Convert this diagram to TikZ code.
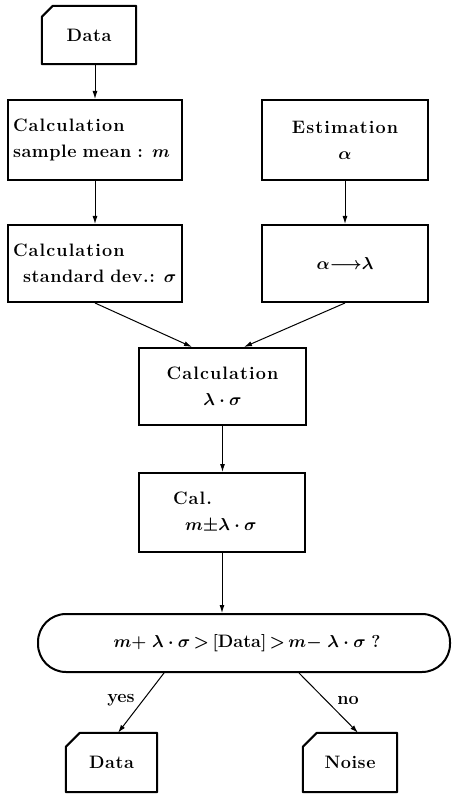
\documentclass[tikz,border=0pt]{standalone}
\usepackage{fontspec}
\setmainfont{Latin Modern Roman}
\newfontfamily\lsA{Latin Modern Roman}[LetterSpace=6]
\newfontfamily\lsB{Latin Modern Roman}[LetterSpace=3]
\usepackage{amsmath}
\usetikzlibrary{calc,arrows.meta}
\begin{document}
\begin{tikzpicture}[x=1pt,y=-1pt,
  every node/.style={font=\fontsize{18}{26}\selectfont\bfseries\boldmath},
  box/.style={draw,line width=2pt,inner sep=0pt},
  io/.style={inner sep=0pt},
  dec/.style={draw,line width=2pt,rounded corners=28pt,inner sep=0pt},
  arr/.style={line width=1pt,-{Latex[length=8pt,width=5pt]}},
  lbl/.style={inner sep=0pt}
]
\useasboundingbox (0,0) rectangle (452,794);
% nodes
\node[io,minimum width=94pt,minimum height=58pt] (data1) at (89,35) {\lsB\bfseries Data};
\node[box,minimum width=174pt,minimum height=80pt,text width=164pt,align=left] (calc1) at (95,140)
  {\lsA\bfseries Calculation\\\lsB\bfseries sample mean : $m$};
\node[box,minimum width=166pt,minimum height=80pt,align=center] (est) at (345,140)
  {\lsA\bfseries Estimation\\$\alpha$};
\node[box,minimum width=174pt,minimum height=77pt,text width=164pt,align=left] (calc2) at (95,263.5)
  {\lsA\bfseries Calculation\\\hspace*{10pt}\lsB\bfseries standard dev.: $\sigma$};
\node[box,minimum width=166pt,minimum height=77pt] (al) at (345,263.5) {$\alpha{\longrightarrow}\lambda$};
\node[box,minimum width=167pt,minimum height=77pt,align=center] (calc3) at (222.5,386.5)
  {\lsA\bfseries Calculation\\$\lambda\cdot\sigma$};
\node[box,minimum width=166pt,minimum height=79pt,text width=98pt,align=left] (cal) at (222,512.5)
  {\lsA\bfseries Cal.\\\hspace*{12pt}$m{\pm}\lambda\cdot\sigma$};
\node[dec,minimum width=412pt,minimum height=58pt] (dec) at (244,643)
  {\hspace*{6pt}$m{+}\;\lambda\cdot\sigma\,{>}\,[\mathrm{Data}]\,{>}\,m{-}\;\lambda\cdot\sigma\;?$};
\node[io,minimum width=91pt,minimum height=59pt] (data2) at (111.5,762.5) {\lsB\bfseries Data};
\node[io,minimum width=94pt,minimum height=59pt] (noise) at (350,762.5) {\lsB\bfseries Noise};
% cut-corner shapes
\foreach \n/\c in {data1/11,data2/14,noise/14}{
  \draw[line width=2pt,line join=round]
    ($(\n.north west)+(0,\c)$) -- ($(\n.north west)+(\c,0)$) -- (\n.north east)
    -- (\n.south east) -- (\n.south west) -- cycle;
}
% connectors
\draw[arr] (calc1.north |- data1.south) -- (calc1.north);
\draw[arr] (calc1.south) -- (calc2.north);
\draw[arr] (est.south) -- (al.north);
\draw[arr] (calc2.south) -- ($(calc3.north west)+(54,0)$);
\draw[arr] (al.south) -- ($(calc3.north west)+(106,0)$);
\draw[arr] (calc3.south) -- (calc3.south |- cal.north);
\draw[arr] (cal.south) -- (cal.south |- dec.north);
\draw[arr] ($(dec.south west)+(127,0)$) -- ($(data2.north)+(6.5,0)$);
\draw[arr] ($(dec.south west)+(262,0)$) -- ($(noise.north)+(8,0)$);
\node[lbl] (yes) at (121,700) {yes};
\node[lbl] (no) at (348,700) {no};
\end{tikzpicture}
\end{document}
